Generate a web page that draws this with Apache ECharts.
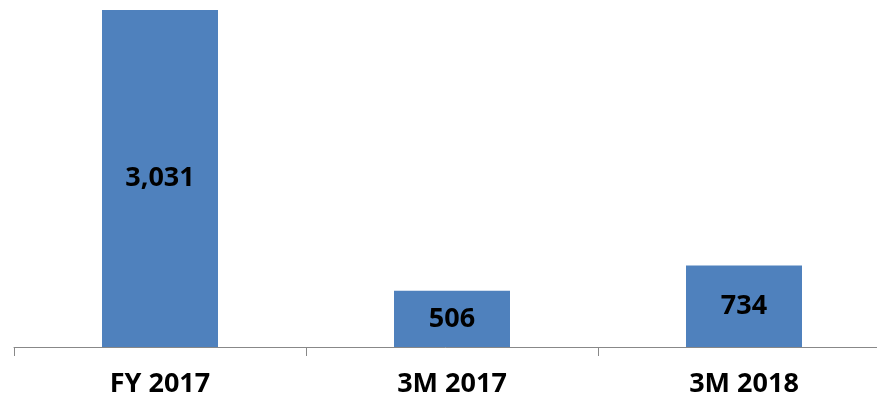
<!DOCTYPE html>
<html>
<head>
<meta charset="utf-8">
<script src="https://cdn.jsdelivr.net/npm/echarts@6/dist/echarts.min.js"></script>
<style>
  html, body { margin: 0; padding: 0; background: #fff; }
  #main { width: 877px; height: 400px; }
</style>
</head>
<body>
<div id="main"></div>
<script>
    var categories = ['FY 2017', '3M 2017', '3M 2018'];
    var values = [3031, 506, 734];

    var myChart = echarts.init(document.getElementById('main'));

    myChart.setOption({
        animation: false,
        grid: {
            left: 14,
            width: 876,
            top: 10,
            bottom: 53,
            outerBoundsMode: 'none'
        },
        xAxis: {
            type: 'category',
            data: categories,
            axisLine: { lineStyle: { color: '#888', width: 1 } },
            axisTick: { show: true, length: 9, lineStyle: { color: '#888' } },
            axisLabel: {
                margin: 24,
                fontFamily: 'Noto Sans',
                fontWeight: 'bold',
                fontSize: 27,
                color: '#000'
            }
        },
        yAxis: {
            type: 'value',
            min: 0,
            max: 'dataMax',
            show: false,
            splitLine: { show: false }
        },
        series: [{
            type: 'bar',
            data: values,
            barWidth: 116,
            itemStyle: { color: '#4F81BD' },
            label: {
                show: true,
                position: 'inside',
                fontFamily: 'Noto Sans',
                fontWeight: 'bold',
                fontSize: 27,
                color: '#000',
                formatter: function (p) {
                    return p.value.toLocaleString('en-US');
                }
            }
        }]
    });
</script>
</body>
</html>
